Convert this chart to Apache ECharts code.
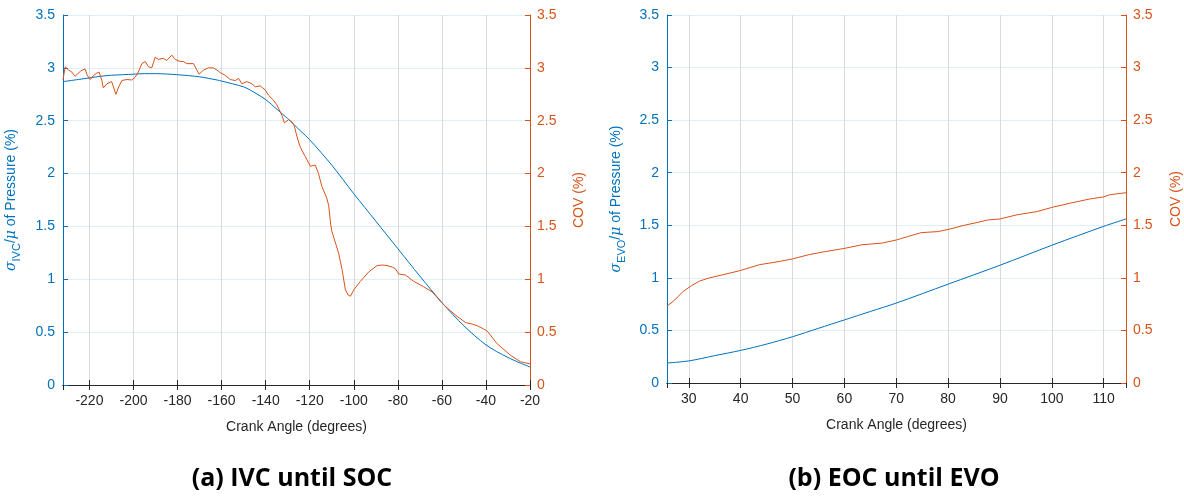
<!DOCTYPE html>
<html>
<head>
<meta charset="utf-8">
<script src="https://cdn.jsdelivr.net/npm/echarts@6/dist/echarts.min.js"></script>
<style>
html,body{margin:0;padding:0;background:#fff;}
#c{width:1184px;height:500px;}
</style>
</head>
<body>
<div id="c"></div>
<script>
// ---------- DATA ----------
const yTickLabels = ['0','0.5','1','1.5','2','2.5','3','3.5'];

// Panel (a): IVC until SOC
const aBlueAngle = [-232,-225,-220,-215,-210,-200,-195,-190,-180,-170,-162,-160,-150,-147,-140,-135,-130,-124,-120,-110,-100,-90,-80,-70,-60,-50,-40,-30,-20];
const aBlueStd   = [2.87,2.89,2.905,2.92,2.93,2.94,2.945,2.945,2.935,2.915,2.885,2.875,2.82,2.79,2.70,2.61,2.52,2.40,2.32,2.08,1.81,1.55,1.29,1.03,0.78,0.56,0.38,0.26,0.17];

const aCovAngle = [-232,-231,-229.5,-228,-226.5,-224,-222,-221,-219.7,-218,-216.7,-215.6,-214.4,-213.7,-212,-209.9,-208,-206.9,-205.3,-203,-200.8,-199.3,-197.8,-196.2,-194.7,-193.2,-191.7,-190.2,-188.7,-186.4,-184.9,-182.6,-181.1,-178.8,-177.3,-175.8,-172.8,-170.2,-168.2,-166,-163.7,-162.2,-160.6,-158.4,-156.1,-153.8,-152.3,-150.8,-148.5,-146.3,-144.7,-142.5,-140.2,-138.7,-136.7,-134.9,-132.6,-131.5,-129.6,-128.1,-127,-125.8,-124.3,-122,-119.7,-117.5,-116,-114.5,-112.3,-111.4,-110.5,-109.9,-106.9,-105.3,-103.8,-102.5,-101.5,-100,-97,-93.2,-89.4,-87,-84.9,-82.5,-81.1,-79.6,-76.5,-72.8,-68.3,-64.4,-59.1,-53.8,-49.2,-46,-43.9,-41,-39.4,-34.9,-28.8,-24.3,-20];
const aCov      = [2.89,3.01,2.98,2.96,2.92,2.97,2.99,2.93,2.89,2.93,2.95,2.96,2.885,2.81,2.85,2.87,2.75,2.81,2.88,2.89,2.885,2.91,2.96,3.04,3.06,3.01,3.00,3.10,3.08,3.09,3.07,3.12,3.08,3.06,3.06,3.04,3.04,2.94,2.98,3.00,3.00,2.98,2.955,2.93,2.89,2.88,2.90,2.85,2.87,2.85,2.82,2.83,2.79,2.74,2.70,2.65,2.55,2.48,2.51,2.49,2.45,2.35,2.25,2.16,2.07,2.08,2.00,1.88,1.77,1.70,1.52,1.45,1.25,1.09,0.90,0.85,0.84,0.90,0.98,1.07,1.13,1.135,1.13,1.115,1.10,1.05,1.04,0.98,0.93,0.88,0.757,0.66,0.59,0.575,0.56,0.53,0.51,0.39,0.28,0.22,0.20];

// Panel (b): EOC until EVO
const bBlueAngle = [25.8,30,35,40,45,50,55,60,65,70,80,90,100,110,114.3];
const bBlueStd   = [0.19,0.21,0.26,0.31,0.37,0.44,0.52,0.60,0.68,0.76,0.94,1.12,1.31,1.49,1.56];

const bCovAngle = [25.8,27.3,28.9,30.5,32.1,34,36.6,40,43.6,46.8,50,53.1,56.3,60,63.4,67.2,70,74.8,78,80,83.1,85,87.6,90,93.3,97.1,100,103.5,107.3,110,111.1,114.3];
const bCov      = [0.73,0.79,0.87,0.925,0.97,1.00,1.03,1.07,1.125,1.15,1.18,1.22,1.25,1.28,1.315,1.33,1.36,1.43,1.44,1.46,1.50,1.52,1.55,1.56,1.60,1.63,1.67,1.71,1.75,1.77,1.79,1.81];

const xRangeA = [-232, -20];
const xRangeB = [25.8, 114.3];

// ---------- STYLE ----------
const BLUE = '#0072BD';
const ORANGE = '#D95319';
const DARK = '#262626';
const FONT = '"Liberation Sans", Arial, sans-serif';

function pairs(xs, ys){ return xs.map((x,i)=>[x, ys[i]]); }

function xAxes(gridIndex, range, step){
  return [
    {
      type:'value', gridIndex, min:range[0], max:range[1],
      splitNumber:10, minInterval:step, maxInterval:step,
      name:'Crank Angle (degrees)', nameLocation:'middle', nameGap:35,
      nameTextStyle:{color:DARK, fontSize:14, fontFamily:FONT},
      axisLine:{lineStyle:{color:DARK, width:1}},
      axisTick:{inside:true, length:5, lineStyle:{color:DARK}},
      axisLabel:{color:DARK, fontSize:14, fontFamily:FONT, margin:9, showMinLabel:false, showMaxLabel: range[1] % step === 0},
      splitLine:{show:true, lineStyle:{color:'#dadada', width:1}}
    },
    {
      type:'value', gridIndex, position:'top', min:range[0], max:range[1],
      splitNumber:10, minInterval:step, maxInterval:step,
      axisLine:{show:true, lineStyle:{color:DARK, width:1}},
      axisTick:{show:true, inside:true, length:5, lineStyle:{color:DARK}},
      axisLabel:{show:false}, splitLine:{show:false}
    }
  ];
}

function nameRich(sub){
  return {
    s:{fontFamily:'"DejaVu Serif", serif', fontStyle:'italic', fontSize:14, color:BLUE, verticalAlign:'middle', lineHeight:22},
    sub:{fontFamily:FONT, fontSize:11, color:BLUE, verticalAlign:'bottom', lineHeight:22, padding:[6,0,0,0]},
    n:{fontFamily:FONT, fontSize:14, color:BLUE, verticalAlign:'middle', lineHeight:22}
  };
}

function yAxes(gridIndex, sub, leftGap, rightGap){
  return [
    {
      type:'value', gridIndex, position:'left', min:0, max:3.5, interval:0.5,
      name:'{s|σ}{sub|'+sub+'}{n|/}{s|μ}{n| of Pressure (%)}', nameLocation:'middle', nameGap:leftGap, nameRotate:90,
      nameTextStyle:{rich:nameRich(sub)},
      axisLine:{show:true, lineStyle:{color:BLUE, width:1}},
      axisTick:{show:true, inside:true, length:5, lineStyle:{color:BLUE}},
      axisLabel:{color:BLUE, fontSize:14, fontFamily:FONT, margin:8, formatter:(v)=>yTickLabels[Math.round(v*2)]},
      splitLine:{show:true, lineStyle:{color:'rgba(0,114,189,0.12)', width:1}}
    },
    {
      type:'value', gridIndex, position:'right', min:0, max:3.5, interval:0.5,
      name:'COV (%)', nameLocation:'middle', nameGap:rightGap, nameRotate:90,
      nameTextStyle:{color:ORANGE, fontSize:14, fontFamily:FONT},
      axisLine:{show:true, lineStyle:{color:ORANGE, width:1}},
      axisTick:{show:true, inside:true, length:5, lineStyle:{color:ORANGE}},
      axisLabel:{color:ORANGE, fontSize:14, fontFamily:FONT, margin:7, formatter:(v)=>yTickLabels[Math.round(v*2)]},
      splitLine:{show:false}
    }
  ];
}

const chart = echarts.init(document.getElementById('c'), null, {renderer:'canvas'});
const lineBase = {type:'line', showSymbol:false, symbol:'none', animation:false};
const TITLE_FONT = '"Open Sans", Lato, sans-serif';

chart.setOption({
  animation:false,
  backgroundColor:'#fff',
  grid:[
    {left:63, top:15, width:467, height:370},
    {left:667, top:15, width:463, height:368}
  ],
  xAxis:[...xAxes(0, xRangeA, 20), ...xAxes(1, xRangeB, 10)],
  yAxis:[...yAxes(0,'IVC',41,42), ...yAxes(1,'EVO',40,43)],
  series:[
    Object.assign({}, lineBase, {xAxisIndex:0, yAxisIndex:0, smooth:0.3, data:pairs(aBlueAngle,aBlueStd), lineStyle:{color:BLUE,width:1}}),
    Object.assign({}, lineBase, {xAxisIndex:0, yAxisIndex:1, data:pairs(aCovAngle,aCov), lineStyle:{color:ORANGE,width:1}}),
    Object.assign({}, lineBase, {xAxisIndex:2, yAxisIndex:2, smooth:0.3, data:pairs(bBlueAngle,bBlueStd), lineStyle:{color:BLUE,width:1}}),
    Object.assign({}, lineBase, {xAxisIndex:2, yAxisIndex:3, data:pairs(bCovAngle,bCov), lineStyle:{color:ORANGE,width:1}})
  ],
  graphic:[
    {type:'text', x:292, y:479, style:{text:'(a) IVC until SOC', fontFamily:TITLE_FONT, fontWeight:'bold', fontSize:25, fill:'#000', align:'center', verticalAlign:'middle'}},
    {type:'text', x:894, y:479, style:{text:'(b) EOC until EVO', fontFamily:TITLE_FONT, fontWeight:'bold', fontSize:25, fill:'#000', align:'center', verticalAlign:'middle'}}
  ]
});
</script>
</body>
</html>
